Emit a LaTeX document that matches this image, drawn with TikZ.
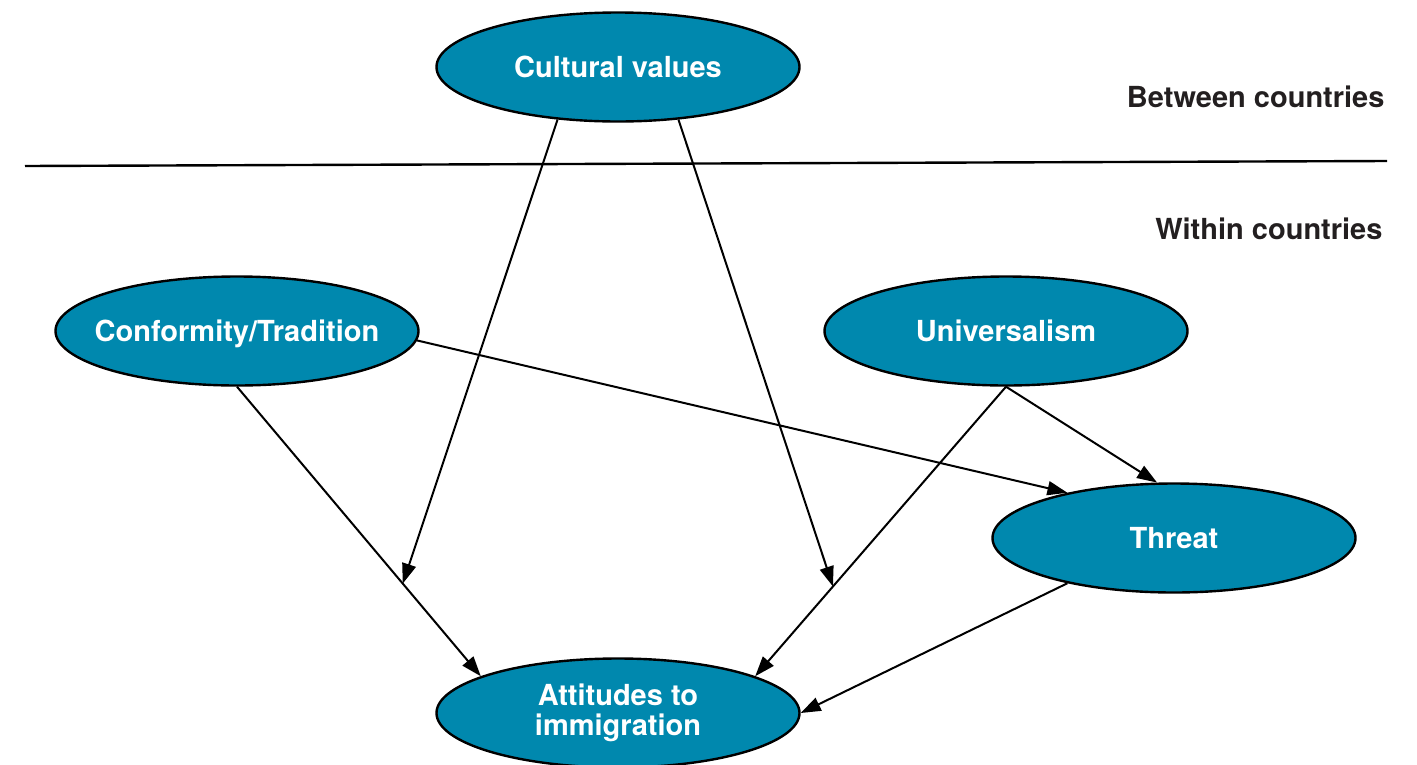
\documentclass[tikz,border=0pt]{standalone}
\usepackage{fontspec}
\setmainfont{TeX Gyre Heros}
\usetikzlibrary{shapes.geometric,arrows.meta}
\definecolor{petrol}{RGB}{0,136,174}
\definecolor{ink}{RGB}{35,31,32}

\begin{document}
\begin{tikzpicture}[x=1pt, y=-1pt,
    font = \fontsize{29}{30}\selectfont\bfseries,
    blob/.style = {ellipse, draw, line width=2.4pt, fill=petrol, text=white,
        minimum width=363pt, minimum height=109pt, inner sep=0pt, align=center},
    link/.style = {line width=2pt, -{Triangle[length=20pt,width=14pt]}}]
    \useasboundingbox (0,0) rectangle (1417,764);

    % levels
    \draw [line width=2.4pt] (25,166) -- (1387,161);
    \node[anchor=east, text=ink] (between) at (1388,97) {Between countries};
    \node[anchor=east, text=ink] (within) at (1386,229) {Within countries};

    % ellipses
    \node[blob] (cv) at (618,67) {Cultural values};
    \node[blob, inner xsep=-24pt, text depth=0pt] (ct) at (237,331) {Conformity/Tradition};
    \node[blob] (uni) at (1006,331) {Universalism};
    \node[blob] (thr) at (1174,538) {Threat};
    \node[blob] (att) at (618,713) {Attitudes to\\immigration};

    % paths
    \draw [link] (ct.south) -- coordinate[pos=0.68] (m1) (att.165);
    \draw [link] (uni.south) -- coordinate[pos=0.69] (m2) (att.15);
    \draw [link] (uni.south) -- (thr.107);
    \draw [link] (ct.-3) -- (thr.157);
    \draw [link] (thr.-157) -- (att.east);

    % moderation
    \draw [link] (cv.-139) -- (m1);
    \draw [link] (cv.-41) -- (m2);
\end{tikzpicture}
\end{document}
